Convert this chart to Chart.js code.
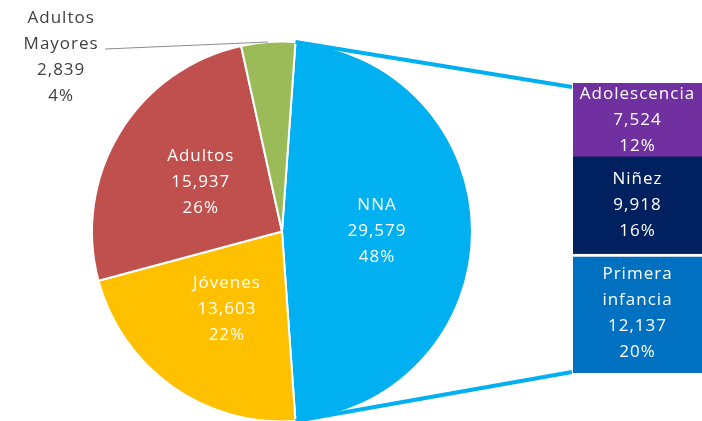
<!DOCTYPE html>
<html>
<head>
<meta charset="utf-8">
<script src="https://cdn.jsdelivr.net/npm/chart.js@4"></script>
<style>
  html, body { margin: 0; padding: 0; background: #fff; }
  #wrap { position: relative; width: 702px; height: 421px; overflow: hidden; }
  #wrap canvas { position: absolute; left: 0; top: 0; }
</style>
</head>
<body>
<div id="wrap">
  <canvas id="pieChart" width="702" height="421"></canvas>
  <canvas id="barChart" width="702" height="421"></canvas>
</div>
<script>
const pieLabels = ['NNA', 'Jóvenes', 'Adultos', 'Adultos Mayores'];
const pieValues = [29579, 13603, 15937, 2839];
const piePercents = ['48%', '22%', '26%', '4%'];
const pieColors = ['#00B0F0', '#FFC000', '#C0504D', '#9BBB59'];

// stacked bar, bottom to top
const barLabels = ['Primera infancia', 'Niñez', 'Adolescencia'];
const barValues = [12137, 9918, 7524];
const barPercents = ['20%', '16%', '12%'];
const barColors = ['#0070C0', '#002060', '#7030A0'];

const FONT = '17px "Open Sans"';
const LINE_H = 26;

function drawLines(ctx, lines, x, yCenter, color) {
    ctx.save();
    ctx.font = FONT;
    ctx.fillStyle = color;
    ctx.textAlign = 'center';
    ctx.textBaseline = 'middle';
    ctx.letterSpacing = '1px';
    let y0 = yCenter - (lines.length - 1) * LINE_H / 2;
    lines.forEach((t, i) => ctx.fillText(t, x, y0 + i * LINE_H));
    ctx.restore();
}

function fmt(v) {
    return v.toLocaleString('en-US');
}

let pieTotal = pieValues.reduce((a, b) => a + b, 0);
// the "other" slice (NNA) is centred at 3 o'clock
let pieRotation = 90 - (pieValues[0] / pieTotal * 360) / 2;

const pieLabelPlugin = {
    id: 'pieLabels',
    afterDatasetsDraw(chart) {
        const ctx = chart.ctx;
        const meta = chart.getDatasetMeta(0);
        meta.data.forEach((arc, i) => {
            let lines = pieLabels[i].split(' ').concat([fmt(pieValues[i]), piePercents[i]]);
            if (i === 3) {
                // outside label with leader line
                let mid = (arc.startAngle + arc.endAngle) / 2;
                let ex = arc.x + Math.cos(mid) * arc.outerRadius;
                let ey = arc.y + Math.sin(mid) * arc.outerRadius;
                let lx = ex - 163, ly = ey + 7;
                ctx.save();
                ctx.strokeStyle = '#8C8C8C';
                ctx.lineWidth = 1;
                ctx.beginPath();
                ctx.moveTo(ex, ey);
                ctx.lineTo(lx, ly);
                ctx.stroke();
                ctx.restore();
                drawLines(ctx, lines, lx - 44, ly - 31 + (lines.length - 1) * LINE_H / 2, '#404040');
            } else {
                let p = arc.tooltipPosition();
                drawLines(ctx, lines, p.x, p.y, '#FFFFFF');
            }
        });
    }
};

const pieChart = new Chart(document.getElementById('pieChart'), {
    type: 'pie',
    data: {
        labels: pieLabels,
        datasets: [{
            data: pieValues,
            backgroundColor: pieColors,
            borderColor: '#FFFFFF',
            borderWidth: 2,
            radius: 190,
            clip: false
        }]
    },
    options: {
        responsive: false,
        animation: false,
        rotation: pieRotation,
        layout: { padding: { left: 72, right: 210, top: 42, bottom: 0 } },
        plugins: {
            legend: { display: false },
            tooltip: { enabled: false }
        }
    },
    plugins: [pieLabelPlugin]
});

let barTotal = barValues.reduce((a, b) => a + b, 0);

const barPlugin = {
    id: 'barExtras',
    afterDatasetsDraw(chart) {
        const ctx = chart.ctx;
        chart.data.datasets.forEach((ds, i) => {
            let bar = chart.getDatasetMeta(i).data[0];
            let lines = barLabels[i].split(' ').concat([fmt(barValues[i]), barPercents[i]]);
            drawLines(ctx, lines, bar.x, (bar.y + bar.base) / 2, '#FFFFFF');
        });

        // connector lines from the NNA slice to the bar
        let arc = pieChart.getDatasetMeta(0).data[0];
        let area = chart.chartArea;
        let sx = arc.x + Math.cos(arc.startAngle) * arc.outerRadius;
        let sy = arc.y + Math.sin(arc.startAngle) * arc.outerRadius;
        let ex = arc.x + Math.cos(arc.endAngle) * arc.outerRadius;
        let ey = arc.y + Math.sin(arc.endAngle) * arc.outerRadius;
        ctx.save();
        ctx.strokeStyle = pieColors[0];
        ctx.lineWidth = 4;
        ctx.beginPath();
        ctx.moveTo(sx, sy);
        ctx.lineTo(area.left - 1, area.top + 4);
        ctx.moveTo(ex, ey);
        ctx.lineTo(area.left - 1, area.bottom - 1);
        ctx.stroke();
        ctx.restore();
    }
};

const barChart = new Chart(document.getElementById('barChart'), {
    type: 'bar',
    data: {
        labels: [''],
        datasets: barLabels.map((l, i) => ({
            label: l,
            data: [barValues[i]],
            backgroundColor: barColors[i],
            borderColor: '#FFFFFF',
            borderWidth: i === 0 ? { top: 3, right: 0, bottom: 0, left: 0 } : 0,
            barPercentage: 1,
            categoryPercentage: 1
        }))
    },
    options: {
        responsive: false,
        animation: false,
        layout: { padding: { left: 573, right: 0, top: 83, bottom: 48 } },
        scales: {
            x: { display: false, stacked: true },
            y: { display: false, stacked: true, min: 0, max: barTotal }
        },
        plugins: {
            legend: { display: false },
            tooltip: { enabled: false }
        }
    },
    plugins: [barPlugin]
});
</script>
</body>
</html>
